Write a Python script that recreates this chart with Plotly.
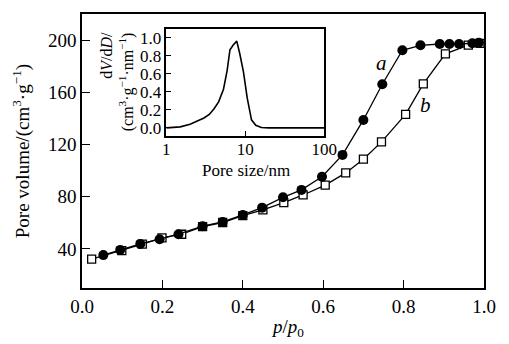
import plotly.graph_objects as go

# Series a (filled circles)
a_x = [0.053, 0.095, 0.145, 0.193, 0.24, 0.30, 0.35, 0.40, 0.448, 0.50, 0.546, 0.597,
       0.648, 0.70, 0.747, 0.797, 0.842, 0.89, 0.914, 0.938, 0.971, 0.987]
a_y = [35.2, 39.2, 43.8, 47.4, 51.2, 57.4, 60.6, 66.0, 71.6, 79.5, 85.2, 95.3,
       112.0, 138.8, 166.2, 192.2, 196.0, 197.0, 197.0, 197.0, 197.6, 198.0]

# Series b (open squares)
b_x = [0.024, 0.099, 0.15, 0.199, 0.248, 0.30, 0.35, 0.40, 0.45, 0.502, 0.55, 0.605,
       0.656, 0.70, 0.745, 0.805, 0.849, 0.904, 0.961, 0.99]
b_y = [32.1, 38.7, 43.6, 48.4, 51.2, 57.0, 60.2, 65.5, 69.9, 75.4, 81.3, 88.8,
       98.2, 108.7, 122.0, 143.1, 166.5, 189.5, 196.2, 197.5]

# Inset: pore size distribution
psd_x = [1.0, 1.5, 2.0, 2.5, 3.0, 3.5, 4.0, 4.6, 5.3, 5.9, 6.4, 7.0, 7.8, 8.5, 9.5,
         10.6, 12.0, 13.6, 16.0, 20, 30, 50, 100]
psd_y = [0.0, 0.012, 0.04, 0.075, 0.11, 0.15, 0.21, 0.29, 0.43, 0.64, 0.87, 0.92, 0.965,
         0.83, 0.62, 0.33, 0.09, 0.03, 0.005, 0.0, 0.0, 0.0, 0.0]

main_xticks = [0.0, 0.2, 0.4, 0.6, 0.8, 1.0]
main_xticktext = ["0.0", "0.2", "0.4", "0.6", "0.8", "1.0"]
main_yticks = [40, 80, 120, 160, 200]
inset_xticks = [1, 10, 100]
inset_xticktext = ["1", "10", "100"]
inset_yticks = [0.0, 0.2, 0.4, 0.6, 0.8, 1.0]
inset_yticktext = ["0.0", "0.2", "0.4", "0.6", "0.8", "1.0"]

FONT = "'Liberation Serif', 'Times New Roman', Times, serif"

fig = go.Figure()
fig.add_trace(go.Scatter(
    x=b_x, y=b_y, mode="lines+markers",
    line=dict(color="black", width=1.3),
    marker=dict(symbol="square", size=8, color="white", line=dict(color="black", width=1.3)),
    xaxis="x", yaxis="y", showlegend=False, cliponaxis=False))
fig.add_trace(go.Scatter(
    x=a_x, y=a_y, mode="lines+markers",
    line=dict(color="black", width=1.3),
    marker=dict(symbol="circle", size=10, color="black"),
    xaxis="x", yaxis="y", showlegend=False, cliponaxis=False))
fig.add_trace(go.Scatter(
    x=psd_x, y=psd_y, mode="lines",
    line=dict(color="black", width=1.6),
    xaxis="x2", yaxis="y2", showlegend=False))

axis_common = dict(showline=True, linecolor="black", linewidth=1.5, mirror=True,
                   ticks="inside", tickcolor="black", showgrid=False, zeroline=False)

fig.update_layout(
    width=509, height=344,
    margin=dict(l=82, r=17, t=14, b=56),
    paper_bgcolor="white", plot_bgcolor="white",
    font=dict(family=FONT, color="black", size=19),
    xaxis=dict(domain=[0, 1], range=[0, 1], tickvals=main_xticks, ticktext=main_xticktext,
               ticklen=8, tickwidth=1.3, tickfont=dict(family=FONT, size=19), **axis_common),
    yaxis=dict(domain=[0, 1], range=[10, 220], tickvals=main_yticks,
               ticklen=8, tickwidth=1.3, tickfont=dict(family=FONT, size=19), **axis_common),
    xaxis2=dict(domain=[0.2098, 0.6024], type="log", range=[0, 2], anchor="y2",
                tickvals=inset_xticks, ticktext=inset_xticktext, ticklabelstandoff=-3,
                ticklen=5, tickwidth=1.2, tickfont=dict(family=FONT, size=17), **axis_common),
    yaxis2=dict(domain=[0.5547, 0.9453], range=[-0.09, 1.1], anchor="x2",
                tickvals=inset_yticks, ticktext=inset_yticktext,
                ticklen=5, tickwidth=1.2, tickfont=dict(family=FONT, size=17), **axis_common),
)

ann = [
    dict(text="Pore volume/(cm<sup>3</sup>·g<sup>−1</sup>)", x=(20 - 82) / 410, y=(288 - 151) / 274,
         textangle=-90, font=dict(family=FONT, size=19)),
    dict(text="<i>p</i>/<i>p</i><sub>0</sub>", x=(292 - 82) / 410, y=(288 - 328) / 274,
         font=dict(family=FONT, size=19)),
    dict(text="Pore size/nm", x=(249 - 82) / 410, y=(288 - 170) / 274, font=dict(family=FONT, size=17)),
    dict(text="d<i>V</i>/d<i>D</i>/<br>(cm<sup>3</sup>·g<sup>−1</sup>·nm<sup>−1</sup>)",
         x=(118 - 82) / 410, y=(288 - 82) / 274, textangle=-90, align="right",
         font=dict(family=FONT, size=16)),
    dict(text="<i>a</i>", x=(387 - 82) / 410, y=(288 - 63) / 274, font=dict(family=FONT, size=21)),
    dict(text="<i>b</i>", x=(432 - 82) / 410, y=(288 - 105) / 274, font=dict(family=FONT, size=21)),
]
for a in ann:
    a.update(xref="paper", yref="paper", showarrow=False, xanchor="center", yanchor="middle")
fig.update_layout(annotations=ann)

fig.write_html("out.html")
